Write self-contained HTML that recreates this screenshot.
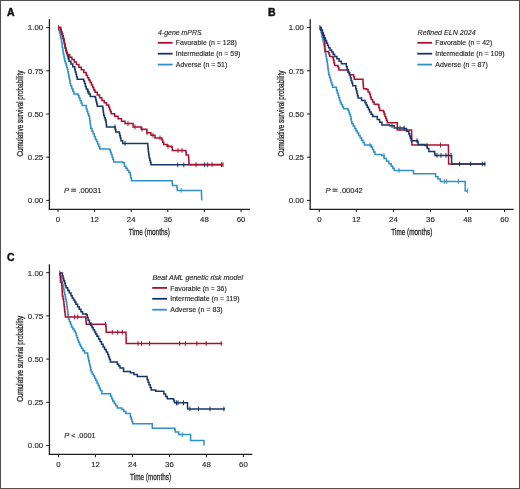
<!DOCTYPE html>
<html><head><meta charset="utf-8"><style>
html,body{margin:0;padding:0;background:#fff;}
svg{display:block;font-family:"Liberation Sans", sans-serif;will-change:transform;filter:blur(0.3px);}
text{stroke:#262626;stroke-width:0.14px;}
</style></head><body>
<svg width="520" height="489" viewBox="0 0 520 489">
<rect x="0" y="0" width="520" height="489" fill="#fff"/>
<text x="7.1" y="15.9" font-size="10.5" font-weight="bold" fill="#111" style="stroke:#111;stroke-width:0.45px">A</text>
<line x1="49.4" y1="19.2" x2="49.4" y2="209.9" stroke="#1e1e1e" stroke-width="1.3"/>
<line x1="48.8" y1="209.3" x2="250" y2="209.3" stroke="#1e1e1e" stroke-width="1.3"/>
<line x1="46.199999999999996" y1="27.6" x2="49.4" y2="27.6" stroke="#1e1e1e" stroke-width="1"/>
<text x="43.199999999999996" y="30.450000000000003" font-size="7.9" text-anchor="end" fill="#262626">1.00</text>
<line x1="46.199999999999996" y1="70.80000000000001" x2="49.4" y2="70.80000000000001" stroke="#1e1e1e" stroke-width="1"/>
<text x="43.199999999999996" y="73.65" font-size="7.9" text-anchor="end" fill="#262626">0.75</text>
<line x1="46.199999999999996" y1="114.0" x2="49.4" y2="114.0" stroke="#1e1e1e" stroke-width="1"/>
<text x="43.199999999999996" y="116.85" font-size="7.9" text-anchor="end" fill="#262626">0.50</text>
<line x1="46.199999999999996" y1="157.20000000000002" x2="49.4" y2="157.20000000000002" stroke="#1e1e1e" stroke-width="1"/>
<text x="43.199999999999996" y="160.05" font-size="7.9" text-anchor="end" fill="#262626">0.25</text>
<line x1="46.199999999999996" y1="200.4" x2="49.4" y2="200.4" stroke="#1e1e1e" stroke-width="1"/>
<text x="43.199999999999996" y="203.25" font-size="7.9" text-anchor="end" fill="#262626">0.00</text>
<line x1="58.0" y1="209.3" x2="58.0" y2="212.10000000000002" stroke="#1e1e1e" stroke-width="1"/>
<text x="58.0" y="221.9" font-size="7.8" text-anchor="middle" fill="#262626">0</text>
<line x1="94.6" y1="209.3" x2="94.6" y2="212.10000000000002" stroke="#1e1e1e" stroke-width="1"/>
<text x="94.6" y="221.9" font-size="7.8" text-anchor="middle" fill="#262626">12</text>
<line x1="131.2" y1="209.3" x2="131.2" y2="212.10000000000002" stroke="#1e1e1e" stroke-width="1"/>
<text x="131.2" y="221.9" font-size="7.8" text-anchor="middle" fill="#262626">24</text>
<line x1="167.8" y1="209.3" x2="167.8" y2="212.10000000000002" stroke="#1e1e1e" stroke-width="1"/>
<text x="167.8" y="221.9" font-size="7.8" text-anchor="middle" fill="#262626">36</text>
<line x1="204.4" y1="209.3" x2="204.4" y2="212.10000000000002" stroke="#1e1e1e" stroke-width="1"/>
<text x="204.4" y="221.9" font-size="7.8" text-anchor="middle" fill="#262626">48</text>
<line x1="241.0" y1="209.3" x2="241.0" y2="212.10000000000002" stroke="#1e1e1e" stroke-width="1"/>
<text x="241.0" y="221.9" font-size="7.8" text-anchor="middle" fill="#262626">60</text>
<text x="149.3" y="234.7" font-size="9.6" text-anchor="middle" fill="#262626" style="stroke-width:0.3px" textLength="41" lengthAdjust="spacingAndGlyphs">Time (months)</text>
<text transform="translate(22.7,113.6) rotate(-90)" font-size="9.4" text-anchor="middle" fill="#262626" style="stroke-width:0.3px" textLength="86" lengthAdjust="spacingAndGlyphs">Cumulative survival probability</text>
<text x="158.10000000000002" y="34.5" font-size="7" font-style="italic" fill="#262626" textLength="43.5" lengthAdjust="spacingAndGlyphs">4-gene mPRS</text>
<line x1="157.8" y1="42.8" x2="172.60000000000002" y2="42.8" stroke="#a8122f" stroke-width="1.8"/>
<text x="175.8" y="45.4" font-size="7.2" fill="#262626" textLength="61" lengthAdjust="spacingAndGlyphs">Favorable (n = 128)</text>
<line x1="157.8" y1="53.699999999999996" x2="172.60000000000002" y2="53.699999999999996" stroke="#173766" stroke-width="1.8"/>
<text x="175.8" y="56.3" font-size="7.2" fill="#262626" textLength="64.5" lengthAdjust="spacingAndGlyphs">Intermediate (n = 59)</text>
<line x1="157.8" y1="64.6" x2="172.60000000000002" y2="64.6" stroke="#3190c6" stroke-width="1.8"/>
<text x="175.8" y="67.19999999999999" font-size="7.2" fill="#262626" textLength="51.5" lengthAdjust="spacingAndGlyphs">Adverse (n = 51)</text>
<text x="64" y="192.8" font-size="7.6" font-style="italic" fill="#262626">P</text><rect x="71.1" y="188.7" width="5.0" height="1.05" fill="#3a3a3a"/><rect x="71.1" y="190.6" width="5.0" height="1.05" fill="#3a3a3a"/><text x="78.4" y="192.8" font-size="7.6" fill="#262626" textLength="23" lengthAdjust="spacingAndGlyphs">.00031</text>
<polyline points="58.0,27.6 58.8,27.6 58.8,30.3 59.5,30.3 59.5,33.0 60.1,33.0 60.1,35.3 60.7,35.3 60.7,37.7 61.3,37.7 61.3,40.0 61.6,40.0 61.6,42.4 62.0,42.4 62.0,44.8 62.3,44.8 62.3,47.2 62.7,47.2 62.7,49.6 63.0,49.6 63.0,52.0 63.4,52.0 63.4,54.2 63.9,54.2 63.9,56.5 64.3,56.5 64.3,58.7 64.7,58.7 64.7,60.9 65.4,60.9 65.4,63.0 66.1,63.0 66.1,65.2 66.7,65.2 66.7,67.3 67.4,67.3 67.4,69.5 67.9,69.5 67.9,71.8 68.3,71.8 68.3,74.2 68.8,74.2 68.8,76.5 69.2,76.5 69.2,78.8 69.7,78.8 69.7,81.1 70.1,81.1 70.1,83.5 70.6,83.5 70.6,85.8 71.7,85.8 71.7,88.5 72.8,88.5 72.8,91.3 73.9,91.3 73.9,94.0 78.0,94.0 78.0,95.6 79.0,95.6 79.0,98.1 80.0,98.1 80.0,100.5 81.1,100.5 81.1,103.0 82.1,103.0 82.1,105.5 86.2,105.5 86.2,108.7 87.0,108.7 87.0,111.2 87.8,111.2 87.8,113.7 88.7,113.7 88.7,116.1 89.5,116.1 89.5,118.6 89.8,118.6 89.8,121.1 90.2,121.1 90.2,123.5 90.5,123.5 90.5,126.0 90.8,126.0 90.8,128.5 92.0,128.5 92.0,131.2 93.1,131.2 93.1,133.8 94.2,133.8 94.2,136.5 95.4,136.5 95.4,139.2 96.5,139.2 96.5,141.6 97.6,141.6 97.6,144.1 98.7,144.1 98.7,146.5 99.8,146.5 99.8,148.9 109.6,148.9 109.6,149.7 110.4,149.7 110.4,152.2 111.2,152.2 111.2,154.6 112.1,154.6 112.1,157.1 112.9,157.1 112.9,159.5 113.7,159.5 113.7,162.0 122.7,162.0 122.7,162.8 124.4,162.8 124.4,166.3 125.8,166.3 125.8,168.2 127.3,168.2 127.3,170.2 128.8,170.2 128.8,172.6 130.2,172.6 130.2,175.0 130.8,175.0 130.8,177.9 131.5,177.9 131.5,180.8 171.9,180.8 172.2,180.8 172.2,183.2 172.5,183.2 172.5,185.6 176.9,185.6 176.9,186.5 177.1,186.5 177.1,188.4 177.3,188.4 177.3,190.4 201.3,190.4 201.4,190.4 201.4,192.9 201.5,192.9 201.5,195.4 201.6,195.4 201.6,197.9 201.7,197.9 201.7,200.4" fill="none" stroke="#3190c6" stroke-width="1.5" stroke-linejoin="miter" stroke-linecap="butt"/>
<polyline points="58.0,27.6 60.6,27.6 60.6,29.8 61.2,29.8 61.2,31.9 61.9,31.9 61.9,33.9 62.5,33.9 62.5,36.0 63.2,36.0 63.2,38.6 63.9,38.6 63.9,41.3 64.3,41.3 64.3,43.6 64.8,43.6 64.8,45.9 65.2,45.9 65.2,48.2 66.0,48.2 66.0,50.8 66.7,50.8 66.7,53.4 67.5,53.4 67.5,56.1 68.2,56.1 68.2,58.7 69.0,58.7 69.0,61.3 70.9,61.3 70.9,64.0 72.8,64.0 72.8,66.8 74.7,66.8 74.7,69.5 75.3,69.5 75.3,72.0 76.0,72.0 76.0,74.4 76.6,74.4 76.6,76.8 77.2,76.8 77.2,79.3 83.7,79.3 83.7,80.9 84.5,80.9 84.5,83.6 85.4,83.6 85.4,86.4 86.2,86.4 86.2,89.1 87.6,89.1 87.6,91.6 88.9,91.6 88.9,94.0 90.3,94.0 90.3,96.5 95.2,96.5 95.2,97.3 95.7,97.3 95.7,99.5 96.2,99.5 96.2,101.8 96.8,101.8 96.8,104.0 97.3,104.0 97.3,106.2 102.5,106.2 102.8,106.2 102.8,108.5 103.1,108.5 103.1,110.8 103.4,110.8 103.4,113.1 103.7,113.1 103.7,115.4 104.5,115.4 104.5,117.7 105.2,117.7 105.2,120.0 106.0,120.0 106.0,122.3 106.2,122.3 106.2,124.6 106.5,124.6 106.5,126.9 114.6,126.9 115.2,126.9 115.2,129.5 115.8,129.5 115.8,132.1 119.2,132.1 119.2,133.3 119.8,133.3 119.8,135.8 120.4,135.8 120.4,138.3 121.0,138.3 121.0,140.8 122.7,140.8 122.7,143.5 147.5,143.5 147.8,143.5 147.8,146.2 148.0,146.2 148.0,148.8 148.3,148.8 148.3,151.5 148.6,151.5 148.6,153.6 148.9,153.6 148.9,155.8 149.2,155.8 149.2,157.9 149.8,157.9 149.8,160.2 150.4,160.2 150.4,162.5 151.0,162.5 151.0,164.8 223.0,164.8" fill="none" stroke="#173766" stroke-width="1.5" stroke-linejoin="miter" stroke-linecap="butt"/>
<polyline points="58.0,27.6 60.6,27.6 60.6,29.8 61.2,29.8 61.2,31.9 61.9,31.9 61.9,33.9 62.5,33.9 62.5,36.0 63.2,36.0 63.2,38.6 63.9,38.6 63.9,41.3 64.4,41.3 64.4,43.6 64.9,43.6 64.9,45.9 65.4,45.9 65.4,48.1 65.9,48.1 65.9,50.4 66.4,50.4 66.4,52.7 67.4,52.7 67.4,54.7 69.7,54.7 69.7,57.2 71.9,57.2 71.9,59.6 74.2,59.6 74.2,62.0 76.4,62.0 76.4,64.5 78.9,64.5 78.9,67.2 81.3,67.2 81.3,69.8 83.8,69.8 83.8,72.5 86.2,72.5 86.2,75.2 87.5,75.2 87.5,77.7 88.8,77.7 88.8,80.1 90.1,80.1 90.1,82.6 91.4,82.6 91.4,85.0 92.7,85.0 92.7,87.5 93.8,87.5 93.8,89.9 95.0,89.9 95.0,92.3 97.3,92.3 97.3,95.0 99.6,95.0 99.6,97.7 101.9,97.7 101.9,100.4 104.2,100.4 104.2,102.7 106.5,102.7 106.5,105.0 108.8,105.0 108.8,107.3 109.6,107.3 109.6,109.4 110.4,109.4 110.4,111.6 111.2,111.6 111.2,113.7 114.7,113.7 114.7,116.2 118.1,116.2 118.1,118.8 121.5,118.8 121.5,121.2 125.0,121.2 125.0,123.5 133.1,123.5 133.1,126.9 141.2,126.9 141.2,129.2 146.9,129.2 146.9,132.7 150.9,132.7 150.9,135.3 155.0,135.3 155.0,138.0 161.9,138.0 161.9,140.0 162.8,140.0 162.8,142.3 163.7,142.3 163.7,144.6 167.1,144.6 167.1,146.3 171.7,146.3 171.7,146.9 172.3,146.9 172.3,150.4 185.6,150.4 185.9,150.4 185.9,152.7 186.2,152.7 186.2,155.0 188.5,155.0 188.5,156.2 188.6,156.2 188.6,158.3 188.8,158.3 188.8,160.4 188.9,160.4 188.9,162.5 189.0,162.5 189.0,164.6 223.0,164.6" fill="none" stroke="#a8122f" stroke-width="1.5" stroke-linejoin="miter" stroke-linecap="butt"/>
<line x1="177.7" y1="162.4" x2="177.7" y2="167.20000000000002" stroke="#173766" stroke-width="1"/>
<line x1="183.8" y1="162.4" x2="183.8" y2="167.20000000000002" stroke="#173766" stroke-width="1"/>
<line x1="204.6" y1="162.4" x2="204.6" y2="167.20000000000002" stroke="#173766" stroke-width="1"/>
<line x1="207.7" y1="162.4" x2="207.7" y2="167.20000000000002" stroke="#173766" stroke-width="1"/>
<line x1="221.5" y1="162.4" x2="221.5" y2="167.20000000000002" stroke="#173766" stroke-width="1"/>
<line x1="181.2" y1="188.0" x2="181.2" y2="192.8" stroke="#3190c6" stroke-width="1"/>
<line x1="196" y1="162.2" x2="196" y2="167.0" stroke="#a8122f" stroke-width="1"/>
<line x1="212" y1="162.2" x2="212" y2="167.0" stroke="#a8122f" stroke-width="1"/>
<line x1="223" y1="162.2" x2="223" y2="167.0" stroke="#a8122f" stroke-width="1"/>
<line x1="58.5" y1="25.200000000000003" x2="58.5" y2="30.0" stroke="#a8122f" stroke-width="1"/>
<line x1="128.0" y1="121.1" x2="128.0" y2="125.9" stroke="#a8122f" stroke-width="1"/>
<line x1="135.0" y1="124.5" x2="135.0" y2="129.3" stroke="#a8122f" stroke-width="1"/>
<line x1="142.0" y1="126.8" x2="142.0" y2="131.6" stroke="#a8122f" stroke-width="1"/>
<line x1="147.0" y1="130.3" x2="147.0" y2="135.1" stroke="#a8122f" stroke-width="1"/>
<line x1="153.0" y1="132.9" x2="153.0" y2="137.8" stroke="#a8122f" stroke-width="1"/>
<line x1="160.0" y1="135.6" x2="160.0" y2="140.4" stroke="#a8122f" stroke-width="1"/>
<line x1="168.0" y1="143.9" x2="168.0" y2="148.7" stroke="#a8122f" stroke-width="1"/>
<line x1="178.0" y1="148.0" x2="178.0" y2="152.8" stroke="#a8122f" stroke-width="1"/>
<line x1="182.0" y1="148.0" x2="182.0" y2="152.8" stroke="#a8122f" stroke-width="1"/>
<line x1="88.0" y1="89.2" x2="88.0" y2="94.0" stroke="#173766" stroke-width="1"/>
<line x1="115.0" y1="124.5" x2="115.0" y2="129.3" stroke="#173766" stroke-width="1"/>
<line x1="125.0" y1="141.1" x2="125.0" y2="145.9" stroke="#173766" stroke-width="1"/>
<text x="268.1" y="15.9" font-size="10.5" font-weight="bold" fill="#111" style="stroke:#111;stroke-width:0.45px">B</text>
<line x1="310.2" y1="19.2" x2="310.2" y2="209.9" stroke="#1e1e1e" stroke-width="1.3"/>
<line x1="309.59999999999997" y1="209.3" x2="513.7" y2="209.3" stroke="#1e1e1e" stroke-width="1.3"/>
<line x1="307.0" y1="27.6" x2="310.2" y2="27.6" stroke="#1e1e1e" stroke-width="1"/>
<text x="304.0" y="30.450000000000003" font-size="7.9" text-anchor="end" fill="#262626">1.00</text>
<line x1="307.0" y1="70.80000000000001" x2="310.2" y2="70.80000000000001" stroke="#1e1e1e" stroke-width="1"/>
<text x="304.0" y="73.65" font-size="7.9" text-anchor="end" fill="#262626">0.75</text>
<line x1="307.0" y1="114.0" x2="310.2" y2="114.0" stroke="#1e1e1e" stroke-width="1"/>
<text x="304.0" y="116.85" font-size="7.9" text-anchor="end" fill="#262626">0.50</text>
<line x1="307.0" y1="157.20000000000002" x2="310.2" y2="157.20000000000002" stroke="#1e1e1e" stroke-width="1"/>
<text x="304.0" y="160.05" font-size="7.9" text-anchor="end" fill="#262626">0.25</text>
<line x1="307.0" y1="200.4" x2="310.2" y2="200.4" stroke="#1e1e1e" stroke-width="1"/>
<text x="304.0" y="203.25" font-size="7.9" text-anchor="end" fill="#262626">0.00</text>
<line x1="319.3" y1="209.3" x2="319.3" y2="212.10000000000002" stroke="#1e1e1e" stroke-width="1"/>
<text x="319.3" y="221.9" font-size="7.8" text-anchor="middle" fill="#262626">0</text>
<line x1="356.35" y1="209.3" x2="356.35" y2="212.10000000000002" stroke="#1e1e1e" stroke-width="1"/>
<text x="356.35" y="221.9" font-size="7.8" text-anchor="middle" fill="#262626">12</text>
<line x1="393.4" y1="209.3" x2="393.4" y2="212.10000000000002" stroke="#1e1e1e" stroke-width="1"/>
<text x="393.4" y="221.9" font-size="7.8" text-anchor="middle" fill="#262626">24</text>
<line x1="430.45" y1="209.3" x2="430.45" y2="212.10000000000002" stroke="#1e1e1e" stroke-width="1"/>
<text x="430.45" y="221.9" font-size="7.8" text-anchor="middle" fill="#262626">36</text>
<line x1="467.5" y1="209.3" x2="467.5" y2="212.10000000000002" stroke="#1e1e1e" stroke-width="1"/>
<text x="467.5" y="221.9" font-size="7.8" text-anchor="middle" fill="#262626">48</text>
<line x1="504.55" y1="209.3" x2="504.55" y2="212.10000000000002" stroke="#1e1e1e" stroke-width="1"/>
<text x="504.55" y="221.9" font-size="7.8" text-anchor="middle" fill="#262626">60</text>
<text x="411.8" y="234.7" font-size="9.6" text-anchor="middle" fill="#262626" style="stroke-width:0.3px" textLength="41" lengthAdjust="spacingAndGlyphs">Time (months)</text>
<text transform="translate(283.5,113.6) rotate(-90)" font-size="9.4" text-anchor="middle" fill="#262626" style="stroke-width:0.3px" textLength="86" lengthAdjust="spacingAndGlyphs">Cumulative survival probability</text>
<text x="417.6" y="34.5" font-size="7" font-style="italic" fill="#262626" textLength="58" lengthAdjust="spacingAndGlyphs">Refined ELN 2024</text>
<line x1="417.3" y1="42.8" x2="432.1" y2="42.8" stroke="#a8122f" stroke-width="1.8"/>
<text x="435.3" y="45.4" font-size="7.2" fill="#262626" textLength="57" lengthAdjust="spacingAndGlyphs">Favorable (n = 42)</text>
<line x1="417.3" y1="53.699999999999996" x2="432.1" y2="53.699999999999996" stroke="#173766" stroke-width="1.8"/>
<text x="435.3" y="56.3" font-size="7.2" fill="#262626" textLength="69.4" lengthAdjust="spacingAndGlyphs">Intermediate (n = 109)</text>
<line x1="417.3" y1="64.6" x2="432.1" y2="64.6" stroke="#3190c6" stroke-width="1.8"/>
<text x="435.3" y="67.19999999999999" font-size="7.2" fill="#262626" textLength="52.5" lengthAdjust="spacingAndGlyphs">Adverse (n = 87)</text>
<text x="325.4" y="192.8" font-size="7.6" font-style="italic" fill="#262626">P</text><rect x="332.5" y="188.7" width="5.0" height="1.05" fill="#3a3a3a"/><rect x="332.5" y="190.6" width="5.0" height="1.05" fill="#3a3a3a"/><text x="339.8" y="192.8" font-size="7.6" fill="#262626" textLength="23" lengthAdjust="spacingAndGlyphs">.00042</text>
<polyline points="319.9,27.5 320.4,27.5 320.4,29.9 321.0,29.9 321.0,32.2 321.5,32.2 321.5,34.6 322.0,34.6 322.0,37.0 322.6,37.0 322.6,39.4 323.1,39.4 323.1,41.8 323.7,41.8 323.7,44.1 324.2,44.1 324.2,46.5 324.6,46.5 324.6,49.0 325.1,49.0 325.1,51.4 325.5,51.4 325.5,53.9 326.0,53.9 326.0,56.3 326.4,56.3 326.4,58.8 326.9,58.8 326.9,61.2 327.3,61.2 327.3,63.7 327.6,63.7 327.6,66.0 327.9,66.0 327.9,68.2 328.2,68.2 328.2,70.5 328.5,70.5 328.5,72.7 328.8,72.7 328.8,75.0 329.6,75.0 329.6,77.5 330.4,77.5 330.4,79.9 331.1,79.9 331.1,82.4 331.9,82.4 331.9,84.8 332.7,84.8 332.7,87.3 336.5,87.3 336.5,90.4 337.3,90.4 337.3,92.9 338.1,92.9 338.1,95.3 338.8,95.3 338.8,97.8 339.6,97.8 339.6,100.2 340.4,100.2 340.4,102.7 341.4,102.7 341.4,104.7 342.5,104.7 342.5,106.8 343.5,106.8 343.5,108.8 348.1,108.8 348.1,110.4 348.9,110.4 348.9,112.4 349.6,112.4 349.6,114.5 350.4,114.5 350.4,116.5 350.9,116.5 350.9,118.9 351.4,118.9 351.4,121.4 351.9,121.4 351.9,123.8 353.3,123.8 353.3,126.1 354.6,126.1 354.6,128.4 356.0,128.4 356.0,130.8 357.3,130.8 357.3,133.1 358.7,133.1 358.7,135.4 360.1,135.4 360.1,137.8 361.5,137.8 361.5,140.2 363.0,140.2 363.0,142.6 364.4,142.6 364.4,145.0 371.2,145.0 371.2,146.9 372.5,146.9 372.5,149.5 373.7,149.5 373.7,152.0 375.0,152.0 375.0,154.6 381.7,154.6 381.7,155.6 384.1,155.6 384.1,158.4 386.5,158.4 386.5,161.3 388.9,161.3 388.9,163.8 391.3,163.8 391.3,166.2 392.8,166.2 392.8,168.3 394.2,168.3 394.2,170.4 412.5,170.4 413.5,170.4 413.5,173.8 434.6,173.8 435.6,173.8 435.6,176.7 438.0,176.7 438.0,179.1 440.4,179.1 440.4,181.5 465.2,181.5 465.2,190.9 467.6,190.9" fill="none" stroke="#3190c6" stroke-width="1.5" stroke-linejoin="miter" stroke-linecap="butt"/>
<polyline points="319.9,27.5 321.1,27.5 321.1,30.2 322.4,30.2 322.4,33.0 323.0,33.0 323.0,35.1 323.6,35.1 323.6,37.3 324.2,37.3 324.2,39.5 324.8,39.5 324.8,41.6 324.9,41.6 324.9,44.0 324.9,44.0 324.9,46.5 324.9,46.5 324.9,49.0 325.0,49.0 325.0,51.4 328.5,51.4 328.5,52.7 329.1,52.7 329.1,54.5 329.7,54.5 329.7,56.4 332.8,56.4 332.8,57.6 333.4,57.6 333.4,60.3 334.0,60.3 334.0,62.9 334.6,62.9 334.6,65.6 337.7,65.6 337.7,66.2 338.3,66.2 338.3,68.1 338.9,68.1 338.9,69.9 347.5,69.9 347.5,70.5 348.4,70.5 348.4,72.7 349.4,72.7 349.4,74.8 353.0,74.8 353.6,74.8 353.6,77.0 354.3,77.0 354.3,79.3 362.8,79.3 363.0,79.3 363.0,81.7 363.1,81.7 363.1,84.0 363.3,84.0 363.3,86.4 363.5,86.4 363.5,88.8 366.5,88.8 366.5,89.6 368.1,89.6 368.1,91.9 369.6,91.9 369.6,94.2 370.4,94.2 370.4,96.9 371.2,96.9 371.2,99.6 372.7,99.6 372.7,101.9 374.2,101.9 374.2,104.2 378.1,104.2 378.1,105.0 378.9,105.0 378.9,107.7 379.6,107.7 379.6,110.4 383.5,110.4 383.5,111.9 384.2,111.9 384.2,114.2 385.0,114.2 385.0,116.5 385.8,116.5 385.8,118.6 386.5,118.6 386.5,120.6 387.3,120.6 387.3,122.7 397.3,122.7 397.3,123.1 397.3,130.0 411.5,130.0 411.6,130.0 411.6,132.5 411.6,132.5 411.6,135.0 411.7,135.0 411.7,137.6 411.8,137.6 411.8,140.1 411.8,140.1 411.8,142.6 411.9,142.6 411.9,145.1 448.4,145.1 448.4,145.1 448.4,147.4 448.4,147.4 448.4,149.8 448.5,149.8 448.5,152.2 448.5,152.2 448.5,154.5 448.5,154.5 448.5,156.8 448.6,156.8 448.6,159.2 448.6,159.2 448.6,161.6 448.6,161.6 448.6,163.9 485.4,163.9" fill="none" stroke="#a8122f" stroke-width="1.5" stroke-linejoin="miter" stroke-linecap="butt"/>
<polyline points="319.9,27.5 321.1,27.5 321.1,30.2 322.4,30.2 322.4,33.0 323.4,33.0 323.4,35.5 324.4,35.5 324.4,37.9 325.4,37.9 325.4,40.4 326.5,40.4 326.5,42.9 327.5,42.9 327.5,45.3 328.5,45.3 328.5,47.8 330.0,47.8 330.0,49.9 331.6,49.9 331.6,52.1 333.1,52.1 333.1,54.2 334.6,54.2 334.6,56.4 336.9,56.4 336.9,58.8 339.1,58.8 339.1,61.3 341.4,61.3 341.4,63.7 346.3,63.7 346.3,66.8 347.2,66.8 347.2,69.5 348.1,69.5 348.1,72.3 349.6,72.3 349.6,75.0 350.4,75.0 350.4,77.7 351.1,77.7 351.1,80.4 351.9,80.4 351.9,83.1 352.7,83.1 352.7,85.8 355.8,85.8 355.8,88.8 356.4,88.8 356.4,91.1 357.0,91.1 357.0,93.4 357.5,93.4 357.5,95.8 358.1,95.8 358.1,98.1 361.6,98.1 361.6,100.4 365.0,100.4 365.0,102.7 366.1,102.7 366.1,105.0 367.3,105.0 367.3,107.3 368.5,107.3 368.5,109.6 369.6,109.6 369.6,111.9 371.1,111.9 371.1,114.2 372.7,114.2 372.7,116.5 377.3,116.5 377.3,119.6 379.6,119.6 379.6,122.3 381.9,122.3 381.9,125.0 389.6,125.0 389.6,125.8 394.2,125.8 394.2,128.1 404.2,128.1 404.2,128.5 406.5,128.5 406.5,131.2 408.8,131.2 408.8,133.8 409.6,133.8 409.6,136.1 410.4,136.1 410.4,138.5 411.2,138.5 411.2,140.8 417.3,140.8 417.3,141.5 418.1,141.5 418.1,144.6 425.0,144.6 425.0,145.4 427.3,145.4 427.3,148.5 428.8,148.5 428.8,151.5 434.2,151.5 434.6,151.5 434.6,153.4 435.0,153.4 435.0,155.4 451.5,155.4 451.6,155.4 451.6,157.5 451.6,157.5 451.6,159.7 451.6,159.7 451.6,161.8 451.7,161.8 451.7,163.9 485.4,163.9" fill="none" stroke="#173766" stroke-width="1.5" stroke-linejoin="miter" stroke-linecap="butt"/>
<line x1="459.6" y1="161.5" x2="459.6" y2="166.3" stroke="#173766" stroke-width="1"/>
<line x1="470.7" y1="161.5" x2="470.7" y2="166.3" stroke="#173766" stroke-width="1"/>
<line x1="482.3" y1="161.5" x2="482.3" y2="166.3" stroke="#173766" stroke-width="1"/>
<line x1="484.8" y1="161.5" x2="484.8" y2="166.3" stroke="#173766" stroke-width="1"/>
<line x1="444.3" y1="179.1" x2="444.3" y2="183.9" stroke="#3190c6" stroke-width="1"/>
<line x1="446.7" y1="179.1" x2="446.7" y2="183.9" stroke="#3190c6" stroke-width="1"/>
<line x1="458.4" y1="179.1" x2="458.4" y2="183.9" stroke="#3190c6" stroke-width="1"/>
<line x1="467.6" y1="188.5" x2="467.6" y2="193.3" stroke="#3190c6" stroke-width="1"/>
<line x1="399" y1="168.0" x2="399" y2="172.8" stroke="#3190c6" stroke-width="1"/>
<line x1="319.9" y1="25.1" x2="319.9" y2="29.9" stroke="#173766" stroke-width="1"/>
<line x1="437" y1="153.0" x2="437" y2="157.8" stroke="#173766" stroke-width="1"/>
<line x1="441" y1="153.0" x2="441" y2="157.8" stroke="#173766" stroke-width="1"/>
<line x1="446" y1="153.0" x2="446" y2="157.8" stroke="#173766" stroke-width="1"/>
<line x1="451" y1="153.0" x2="451" y2="157.8" stroke="#173766" stroke-width="1"/>
<line x1="440.5" y1="142.7" x2="440.5" y2="147.5" stroke="#a8122f" stroke-width="1"/>
<line x1="392.0" y1="123.4" x2="392.0" y2="128.2" stroke="#173766" stroke-width="1"/>
<line x1="400.0" y1="125.7" x2="400.0" y2="130.5" stroke="#173766" stroke-width="1"/>
<line x1="404.0" y1="125.7" x2="404.0" y2="130.5" stroke="#173766" stroke-width="1"/>
<line x1="417.0" y1="138.4" x2="417.0" y2="143.2" stroke="#173766" stroke-width="1"/>
<line x1="427.0" y1="143.0" x2="427.0" y2="147.8" stroke="#173766" stroke-width="1"/>
<line x1="370.0" y1="142.6" x2="370.0" y2="147.4" stroke="#3190c6" stroke-width="1"/>
<line x1="384.0" y1="153.2" x2="384.0" y2="158.0" stroke="#3190c6" stroke-width="1"/>
<text x="7.1" y="261.0" font-size="10.5" font-weight="bold" fill="#111" style="stroke:#111;stroke-width:0.45px">C</text>
<line x1="49.4" y1="264.3" x2="49.4" y2="455.0" stroke="#1e1e1e" stroke-width="1.3"/>
<line x1="48.8" y1="454.4" x2="252.3" y2="454.4" stroke="#1e1e1e" stroke-width="1.3"/>
<line x1="46.199999999999996" y1="272.7" x2="49.4" y2="272.7" stroke="#1e1e1e" stroke-width="1"/>
<text x="43.199999999999996" y="275.55" font-size="7.9" text-anchor="end" fill="#262626">1.00</text>
<line x1="46.199999999999996" y1="315.9" x2="49.4" y2="315.9" stroke="#1e1e1e" stroke-width="1"/>
<text x="43.199999999999996" y="318.75" font-size="7.9" text-anchor="end" fill="#262626">0.75</text>
<line x1="46.199999999999996" y1="359.1" x2="49.4" y2="359.1" stroke="#1e1e1e" stroke-width="1"/>
<text x="43.199999999999996" y="361.95000000000005" font-size="7.9" text-anchor="end" fill="#262626">0.50</text>
<line x1="46.199999999999996" y1="402.3" x2="49.4" y2="402.3" stroke="#1e1e1e" stroke-width="1"/>
<text x="43.199999999999996" y="405.15000000000003" font-size="7.9" text-anchor="end" fill="#262626">0.25</text>
<line x1="46.199999999999996" y1="445.5" x2="49.4" y2="445.5" stroke="#1e1e1e" stroke-width="1"/>
<text x="43.199999999999996" y="448.35" font-size="7.9" text-anchor="end" fill="#262626">0.00</text>
<line x1="58.5" y1="454.4" x2="58.5" y2="457.2" stroke="#1e1e1e" stroke-width="1"/>
<text x="58.5" y="467.0" font-size="7.8" text-anchor="middle" fill="#262626">0</text>
<line x1="95.47999999999999" y1="454.4" x2="95.47999999999999" y2="457.2" stroke="#1e1e1e" stroke-width="1"/>
<text x="95.47999999999999" y="467.0" font-size="7.8" text-anchor="middle" fill="#262626">12</text>
<line x1="132.45999999999998" y1="454.4" x2="132.45999999999998" y2="457.2" stroke="#1e1e1e" stroke-width="1"/>
<text x="132.45999999999998" y="467.0" font-size="7.8" text-anchor="middle" fill="#262626">24</text>
<line x1="169.44" y1="454.4" x2="169.44" y2="457.2" stroke="#1e1e1e" stroke-width="1"/>
<text x="169.44" y="467.0" font-size="7.8" text-anchor="middle" fill="#262626">36</text>
<line x1="206.42" y1="454.4" x2="206.42" y2="457.2" stroke="#1e1e1e" stroke-width="1"/>
<text x="206.42" y="467.0" font-size="7.8" text-anchor="middle" fill="#262626">48</text>
<line x1="243.39999999999998" y1="454.4" x2="243.39999999999998" y2="457.2" stroke="#1e1e1e" stroke-width="1"/>
<text x="243.39999999999998" y="467.0" font-size="7.8" text-anchor="middle" fill="#262626">60</text>
<text x="150.6" y="479.79999999999995" font-size="9.6" text-anchor="middle" fill="#262626" style="stroke-width:0.3px" textLength="41" lengthAdjust="spacingAndGlyphs">Time (months)</text>
<text transform="translate(22.7,358.7) rotate(-90)" font-size="9.4" text-anchor="middle" fill="#262626" style="stroke-width:0.3px" textLength="86" lengthAdjust="spacingAndGlyphs">Cumulative survival probability</text>
<text x="152.5" y="279.6" font-size="7" font-style="italic" fill="#262626" textLength="90.5" lengthAdjust="spacingAndGlyphs">Beat AML genetic risk model</text>
<line x1="152.2" y1="287.9" x2="167.0" y2="287.9" stroke="#a8122f" stroke-width="1.8"/>
<text x="170.2" y="290.5" font-size="7.2" fill="#262626" textLength="56.5" lengthAdjust="spacingAndGlyphs">Favorable (n = 36)</text>
<line x1="152.2" y1="298.79999999999995" x2="167.0" y2="298.79999999999995" stroke="#173766" stroke-width="1.8"/>
<text x="170.2" y="301.4" font-size="7.2" fill="#262626" textLength="69.5" lengthAdjust="spacingAndGlyphs">Intermediate (n = 119)</text>
<line x1="152.2" y1="309.7" x2="167.0" y2="309.7" stroke="#3190c6" stroke-width="1.8"/>
<text x="170.2" y="312.3" font-size="7.2" fill="#262626" textLength="52.5" lengthAdjust="spacingAndGlyphs">Adverse (n = 83)</text>
<text x="64.2" y="437.8" font-size="7.6" font-style="italic" fill="#262626">P</text><path d="M75.2,434.2 L71.6,435.7 L75.2,437.2" fill="none" stroke="#3a3a3a" stroke-width="0.9"/><text x="77.3" y="437.8" font-size="7.6" fill="#262626" textLength="18.3" lengthAdjust="spacingAndGlyphs">.0001</text>
<polyline points="59.9,273.0 60.4,273.0 60.4,275.4 61.0,275.4 61.0,277.7 61.5,277.7 61.5,280.1 62.0,280.1 62.0,282.4 62.5,282.4 62.5,284.8 63.1,284.8 63.1,287.1 63.6,287.1 63.6,289.5 64.1,289.5 64.1,292.0 64.6,292.0 64.6,294.4 65.2,294.4 65.2,296.9 65.7,296.9 65.7,299.4 66.2,299.4 66.2,301.8 66.7,301.8 66.7,304.3 67.0,304.3 67.0,306.8 67.3,306.8 67.3,309.3 67.6,309.3 67.6,311.8 67.9,311.8 67.9,314.2 68.2,314.2 68.2,316.7 68.5,316.7 68.5,319.2 69.5,319.2 69.5,321.8 70.5,321.8 70.5,324.3 71.5,324.3 71.5,326.9 72.8,326.9 72.8,329.0 74.1,329.0 74.1,331.0 75.4,331.0 75.4,333.1 76.2,333.1 76.2,335.4 77.0,335.4 77.0,337.7 77.7,337.7 77.7,340.0 78.5,340.0 78.5,342.3 79.5,342.3 79.5,344.4 80.5,344.4 80.5,346.4 81.5,346.4 81.5,348.5 83.0,348.5 83.0,350.8 84.6,350.8 84.6,353.1 87.7,353.1 87.7,356.2 88.2,356.2 88.2,358.4 88.7,358.4 88.7,360.7 89.2,360.7 89.2,362.9 89.7,362.9 89.7,365.2 90.2,365.2 90.2,367.4 90.7,367.4 90.7,369.7 91.2,369.7 91.2,371.9 92.3,371.9 92.3,374.0 93.5,374.0 93.5,376.1 94.7,376.1 94.7,378.3 95.8,378.3 95.8,380.4 97.0,380.4 97.0,382.9 98.1,382.9 98.1,385.4 99.2,385.4 99.2,387.9 100.4,387.9 100.4,390.4 101.9,390.4 101.9,393.8 109.6,393.8 110.6,393.8 110.6,396.3 111.7,396.3 111.7,398.7 112.7,398.7 112.7,401.2 114.2,401.2 114.2,403.5 115.8,403.5 115.8,405.8 117.3,405.8 117.3,408.1 121.9,408.1 121.9,409.6 123.8,409.6 123.8,411.6 125.8,411.6 125.8,413.5 130.4,413.5 130.4,416.9 131.2,416.9 131.2,419.2 131.9,419.2 131.9,421.5 132.7,421.5 132.7,423.8 152.3,423.8 152.3,424.3 152.3,428.2 174.2,428.2 174.8,428.2 174.8,430.0 175.4,430.0 175.4,431.9 178.8,431.9 178.8,434.6 190.6,434.6 190.6,440.6 204.0,440.6 204.0,445.4" fill="none" stroke="#3190c6" stroke-width="1.5" stroke-linejoin="miter" stroke-linecap="butt"/>
<polyline points="59.9,273.0 60.0,273.0 60.0,275.3 60.2,275.3 60.2,277.6 60.4,277.6 60.4,279.9 60.5,279.9 60.5,282.2 61.7,282.2 61.7,283.4 61.8,283.4 61.8,286.0 62.0,286.0 62.0,288.6 62.1,288.6 62.1,291.1 62.3,291.1 62.3,293.7 62.4,293.7 62.4,296.3 63.0,296.3 63.0,299.1 63.6,299.1 63.6,301.8 63.9,301.8 63.9,304.3 64.2,304.3 64.2,306.8 64.5,306.8 64.5,309.4 64.8,309.4 64.8,311.9 65.1,311.9 65.1,314.4 65.4,314.4 65.4,316.9 85.6,316.9 85.8,316.9 85.8,319.3 86.0,319.3 86.0,321.8 86.2,321.8 86.2,324.2 105.8,324.2 105.9,324.2 105.9,326.9 106.1,326.9 106.1,329.6 106.2,329.6 106.2,332.3 126.0,332.3 126.0,332.3 126.0,334.5 126.1,334.5 126.1,336.8 126.1,336.8 126.1,339.0 126.2,339.0 126.2,341.3 126.2,341.3 126.2,343.5 222.3,343.5" fill="none" stroke="#a8122f" stroke-width="1.5" stroke-linejoin="miter" stroke-linecap="butt"/>
<polyline points="59.9,273.0 62.4,273.0 62.4,276.0 63.1,276.0 63.1,278.3 63.8,278.3 63.8,280.7 64.6,280.7 64.6,283.0 65.3,283.0 65.3,285.4 66.0,285.4 66.0,287.7 67.7,287.7 67.7,290.4 69.3,290.4 69.3,293.0 71.0,293.0 71.0,295.7 72.2,295.7 72.2,297.9 73.5,297.9 73.5,300.0 74.7,300.0 74.7,302.1 75.9,302.1 75.9,304.3 77.6,304.3 77.6,306.8 79.2,306.8 79.2,309.2 80.9,309.2 80.9,311.7 82.6,311.7 82.6,314.1 86.3,314.1 86.3,314.7 87.2,314.7 87.2,317.4 88.1,317.4 88.1,320.2 89.4,320.2 89.4,322.8 90.8,322.8 90.8,325.4 92.0,325.4 92.0,327.6 93.2,327.6 93.2,329.7 94.5,329.7 94.5,331.9 95.7,331.9 95.7,334.0 96.9,334.0 96.9,336.2 98.5,336.2 98.5,338.9 100.0,338.9 100.0,341.5 101.5,341.5 101.5,344.2 103.1,344.2 103.1,346.9 104.6,346.9 104.6,349.5 106.2,349.5 106.2,352.0 107.7,352.0 107.7,354.6 108.6,354.6 108.6,357.0 109.5,357.0 109.5,359.5 110.4,359.5 110.4,361.9 117.3,361.9 117.3,364.2 118.7,364.2 118.7,366.1 120.0,366.1 120.0,368.1 123.5,368.1 123.5,371.5 130.4,371.5 130.4,372.7 133.9,372.7 133.9,374.6 137.3,374.6 137.3,376.5 141.9,376.5 147.1,376.5 147.1,379.6 148.1,379.6 148.1,382.2 149.1,382.2 149.1,384.8 150.2,384.8 150.2,387.4 151.2,387.4 151.2,390.0 155.8,390.0 155.8,391.2 163.8,391.2 163.8,394.0 165.6,394.0 165.6,396.4 167.3,396.4 167.3,398.7 173.3,398.7 173.3,399.2 173.9,399.2 173.9,401.0 174.5,401.0 174.5,402.8 187.4,402.8 187.5,402.8 187.5,404.8 187.5,404.8 187.5,406.9 187.6,406.9 187.6,408.9 225.0,408.9" fill="none" stroke="#173766" stroke-width="1.5" stroke-linejoin="miter" stroke-linecap="butt"/>
<line x1="74.6" y1="314.5" x2="74.6" y2="319.29999999999995" stroke="#a8122f" stroke-width="1"/>
<line x1="77.7" y1="314.5" x2="77.7" y2="319.29999999999995" stroke="#a8122f" stroke-width="1"/>
<line x1="105.4" y1="321.8" x2="105.4" y2="326.59999999999997" stroke="#a8122f" stroke-width="1"/>
<line x1="112.3" y1="329.90000000000003" x2="112.3" y2="334.7" stroke="#a8122f" stroke-width="1"/>
<line x1="117.7" y1="329.90000000000003" x2="117.7" y2="334.7" stroke="#a8122f" stroke-width="1"/>
<line x1="122.3" y1="329.90000000000003" x2="122.3" y2="334.7" stroke="#a8122f" stroke-width="1"/>
<line x1="138.1" y1="341.1" x2="138.1" y2="345.9" stroke="#a8122f" stroke-width="1"/>
<line x1="141.5" y1="341.1" x2="141.5" y2="345.9" stroke="#a8122f" stroke-width="1"/>
<line x1="149.6" y1="341.1" x2="149.6" y2="345.9" stroke="#a8122f" stroke-width="1"/>
<line x1="179.6" y1="341.1" x2="179.6" y2="345.9" stroke="#a8122f" stroke-width="1"/>
<line x1="185.4" y1="341.1" x2="185.4" y2="345.9" stroke="#a8122f" stroke-width="1"/>
<line x1="196.9" y1="341.1" x2="196.9" y2="345.9" stroke="#a8122f" stroke-width="1"/>
<line x1="206.2" y1="341.1" x2="206.2" y2="345.9" stroke="#a8122f" stroke-width="1"/>
<line x1="221.2" y1="341.1" x2="221.2" y2="345.9" stroke="#a8122f" stroke-width="1"/>
<line x1="189.9" y1="406.5" x2="189.9" y2="411.29999999999995" stroke="#173766" stroke-width="1"/>
<line x1="198.5" y1="406.5" x2="198.5" y2="411.29999999999995" stroke="#173766" stroke-width="1"/>
<line x1="210" y1="406.5" x2="210" y2="411.29999999999995" stroke="#173766" stroke-width="1"/>
<line x1="223.9" y1="406.5" x2="223.9" y2="411.29999999999995" stroke="#173766" stroke-width="1"/>
<line x1="176.5" y1="400.40000000000003" x2="176.5" y2="405.2" stroke="#173766" stroke-width="1"/>
<line x1="178" y1="400.40000000000003" x2="178" y2="405.2" stroke="#173766" stroke-width="1"/>
<line x1="183.5" y1="400.40000000000003" x2="183.5" y2="405.2" stroke="#173766" stroke-width="1"/>
<line x1="182.3" y1="432.20000000000005" x2="182.3" y2="437.0" stroke="#3190c6" stroke-width="1"/>
<line x1="59.9" y1="270.6" x2="59.9" y2="275.4" stroke="#a8122f" stroke-width="1"/>
<rect x="0.5" y="0.5" width="519" height="488" fill="none" stroke="#505050" stroke-width="1"/>
</svg>
</body></html>
